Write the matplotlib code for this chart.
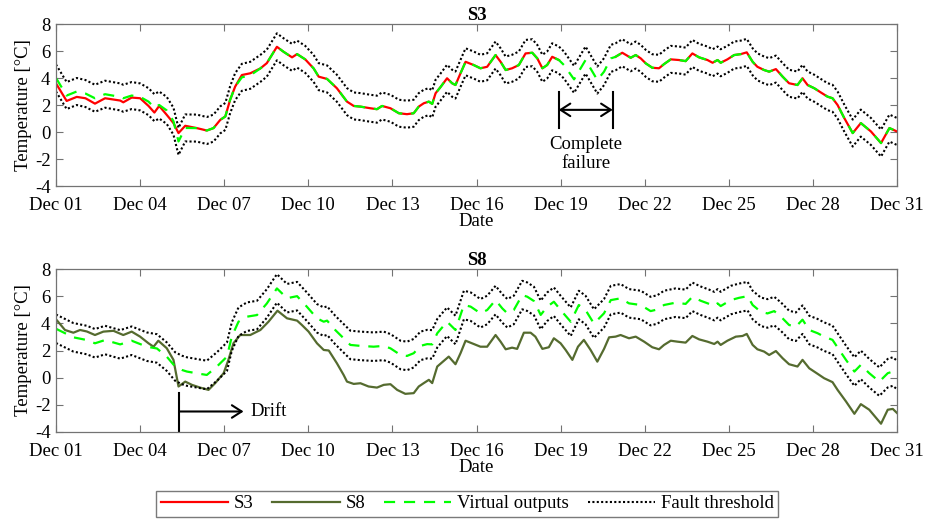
import matplotlib
matplotlib.use('Agg')
import matplotlib.pyplot as plt
from matplotlib.lines import Line2D
import numpy as np

plt.rcParams['font.family'] = ['Liberation Serif', 'DejaVu Serif']
plt.rcParams['axes.unicode_minus'] = False

# x positions are days after Dec 01 00:00
tick_days = [0, 3, 6, 9, 12, 15, 18, 21, 24, 27, 30]
tick_labels = ['Dec 01', 'Dec 04', 'Dec 07', 'Dec 10', 'Dec 13', 'Dec 16',
               'Dec 19', 'Dec 22', 'Dec 25', 'Dec 28', 'Dec 31']

# ---- S3 panel ----
nan = np.nan
t_s3 = [0.0, 0.38, 0.74, 1.05, 1.39, 1.75, 2.29, 2.40, 2.70, 3.00, 3.30, 3.51, 3.68,
        3.95, 4.19, 4.37, 4.61, 5.02, 5.38, 5.62, 5.86, 6.04, 6.21, 6.39, 6.63, 6.93,
        7.29, 7.52, 7.88, 8.12, 8.42, 8.60, 8.89, 9.19, 9.37, 9.67, 10.02, 10.38, 10.62,
        10.86, 11.21, 11.45, 11.63, 11.93, 12.23, 12.52, 12.76, 12.94, 13.12, 13.30,
        13.42, 13.54, 13.71, 13.95, 14.13, 14.25, 14.43, 14.61, 14.90, 15.14, 15.38,
        15.68, 15.86, 16.04, 16.27, 16.51, 16.75, 16.99, 17.17, 17.35, 17.52, 17.70,
        17.94, 18.12, 18.48, 18.89, 19.31, 19.55, 19.79, 19.96, 20.20, 20.50, 20.68,
        20.86, 21.04, 21.27, 21.51, 21.69, 21.93, 22.23, 22.46, 22.70, 22.94, 23.24,
        23.42, 23.60, 23.71, 23.95, 24.19, 24.43, 24.64, 24.85, 25.02, 25.26, 25.44,
        25.68, 25.92, 26.15, 26.45, 26.63, 26.81, 27.05, 27.29, 27.52, 27.70, 27.88,
        28.12, 28.42, 28.71, 29.07, 29.43, 29.73, 30.0]
s3 = [3.6, 2.3, 2.6, 2.5, 2.1, 2.5, 2.33, 2.2, 2.55, 2.5, 1.93, 1.44, 1.93,
      1.27, 0.66, -0.08, 0.46, 0.29, 0.11, 0.29, 0.9, 1.15, 2.38, 3.36, 4.22, 4.35,
      4.71, 5.1, 6.31, 5.94, 5.53, 5.77, 5.38, 4.71, 4.1, 3.93, 3.24, 2.25, 1.93,
      1.88, 1.76, 1.69, 1.93, 1.76, 1.39, 1.32, 1.39, 1.88, 2.13, 2.25,
      2.08, 2.87, 3.31, 3.98, 3.61, 3.48, 4.35, 5.2, 4.96, 4.72, 4.83,
      5.7, 5.2, 4.59, 4.72, 4.96, 5.82, 5.87, 5.45, 4.72, 4.96, 5.57,
      5.33, nan, nan, nan, nan, nan, nan, 5.57, 5.87, 5.5, 5.7,
      5.45, 5.08, 4.76, 4.72, 5.03, 5.38, 5.33, 5.25, 5.82, 5.53, 5.33,
      5.13, 5.33, 5.13, 5.38, 5.7, 5.77, 5.9, 5.2, 4.83, 4.59, 4.47,
      4.66, 4.1, 3.61, 3.48, 3.98, 3.48, 3.24, 2.92, 2.62, 2.5, 2.0,
      1.03, -0.08, 0.66, 0.04, -0.82, 0.29, 0.04]
virtual_s3 = [4.0, 2.7, 3.0, 2.85, 2.5, 2.8, 2.6, 2.5, 2.7, 2.6, 2.25, 1.8, 2.0,
              1.6, 0.8, -0.7, 0.3, 0.29, 0.11, 0.29, 0.9, 1.15, 2.38, 3.36, 4.05, 4.2,
              4.71, 5.1, 6.31, 5.94, 5.53, 5.77, 5.38, 4.71, 4.1, 3.93, 3.24, 2.25, 1.93,
              1.88, 1.76, 1.69, 1.93, 1.76, 1.39, 1.32, 1.39, 1.88, 2.13, 2.25,
              2.08, 2.87, 3.31, 3.98, 3.61, 3.48, 4.35, 5.2, 4.96, 4.72, 4.83,
              5.7, 5.2, 4.59, 4.72, 4.96, 5.82, 5.87, 5.45, 4.72, 4.96, 5.57,
              5.33, 4.96, 3.9, 5.33, 3.85, 4.47, 5.45, 5.57, 5.87, 5.5, 5.7,
              5.45, 5.08, 4.76, 4.72, 5.03, 5.38, 5.33, 5.25, 5.82, 5.53, 5.33,
              5.13, 5.33, 5.13, 5.38, 5.7, 5.77, 5.9, 5.2, 4.83, 4.59, 4.47,
              4.66, 4.1, 3.61, 3.48, 3.98, 3.48, 3.24, 2.92, 2.62, 2.5, 2.0,
              1.03, -0.08, 0.66, 0.04, -0.82, 0.29, 0.04]
band_s3 = 1.0

# ---- S8 panel ----
t_s8 = [0.0, 0.32, 0.62, 0.86, 1.1, 1.39, 1.69, 2.05, 2.40, 2.70, 3.0, 3.30, 3.48,
        3.65, 3.95, 4.19, 4.37, 4.61, 4.85, 5.14, 5.44, 5.68, 5.98, 6.15, 6.33, 6.57,
        6.93, 7.29, 7.58, 7.90, 8.24, 8.60, 8.77, 9.01, 9.31, 9.55, 9.73, 10.02, 10.26,
        10.38, 10.62, 10.86, 11.15, 11.45, 11.69, 11.93, 12.17, 12.46, 12.76, 12.94,
        13.12, 13.30, 13.42, 13.60, 13.83, 14.01, 14.25, 14.43, 14.61, 14.90, 15.14,
        15.38, 15.68, 15.86, 16.04, 16.27, 16.45, 16.69, 16.93, 17.10, 17.35, 17.58,
        17.76, 18.0, 18.18, 18.42, 18.62, 18.83, 19.07, 19.31, 19.55, 19.73, 19.96,
        20.14, 20.44, 20.68, 20.98, 21.27, 21.51, 21.69, 21.93, 22.17, 22.46, 22.70,
        22.94, 23.24, 23.48, 23.60, 23.71, 23.95, 24.25, 24.49, 24.64, 24.85, 25.02,
        25.26, 25.44, 25.68, 25.92, 26.15, 26.45, 26.63, 26.87, 27.17, 27.40, 27.70,
        27.88, 28.18, 28.48, 28.71, 29.01, 29.43, 29.67, 29.85, 30.0]
s8 = [4.3, 3.51, 3.31, 3.51, 3.4, 3.14, 3.39, 3.45, 3.14, 3.39, 3.02, 2.53, 2.28,
      2.72, 2.17, 1.31, -0.65, -0.29, -0.53, -0.73, -0.9, -0.4, 0.33, 1.31, 2.53, 3.14,
      3.14, 3.51, 4.12, 4.93, 4.37, 4.2, 3.88, 3.39, 2.53, 2.04, 2.0, 1.06, 0.2,
      -0.29, -0.46, -0.41, -0.65, -0.73, -0.53, -0.48, -0.9, -1.19, -1.14, -0.65,
      -0.4, -0.16, -0.4, 0.82, 1.23, 1.55, 0.99, 1.8, 2.72, 2.48, 2.28,
      2.28, 3.14, 2.65, 2.09, 2.21, 2.12, 3.31, 3.31, 3.02, 2.12, 2.24,
      2.9, 2.53, 2.04, 1.31, 2.28, 2.78, 2.04, 1.18, 2.12, 2.97, 3.02,
      3.14, 2.9, 3.02, 2.65, 2.24, 2.09, 2.41, 2.72, 2.65, 2.58, 3.07,
      2.82, 2.65, 2.48, 2.65, 2.41, 2.72, 3.02, 3.07, 3.22, 2.41, 2.09,
      1.92, 1.67, 1.96, 1.43, 0.99, 0.82, 1.31, 0.69, 0.28, -0.04, -0.33,
      -0.9, -1.75, -2.66, -1.95, -2.36, -3.39, -2.36, -2.3, -2.6]

t_v8 = [0.0, 0.62, 1.1, 1.39, 1.75, 2.29, 2.70, 3.24, 3.60, 3.95, 4.25, 4.49, 4.67,
        5.14, 5.38, 5.74, 6.1, 6.27, 6.51, 6.81, 7.17, 7.52, 7.88, 8.24, 8.60, 8.95,
        9.31, 9.55, 9.67, 9.96, 10.26, 10.5, 10.86, 11.33, 11.69, 11.93, 12.29, 12.52,
        12.76, 13.0, 13.24, 13.42, 13.6, 13.95, 14.25, 14.55, 14.79, 15.14, 15.38,
        15.68, 15.92, 16.1, 16.33, 16.63, 16.81, 17.05, 17.29, 17.52, 17.76, 18.0,
        18.36, 18.65, 18.89, 19.19, 19.55, 19.79, 20.14, 20.44, 20.86, 21.21, 21.45,
        21.69, 22.1, 22.46, 22.70, 23.0, 23.3, 23.48, 23.6, 23.71, 24.07, 24.37, 24.67,
        24.85, 25.14, 25.38, 25.62, 25.86, 26.15, 26.39, 26.63, 26.87, 27.17, 27.40,
        27.70, 27.94, 28.18, 28.48, 28.71, 29.01, 29.37, 29.67, 29.85, 30.0]
virtual_s8 = [3.6, 2.97, 2.77, 2.53, 2.77, 2.45, 2.72, 2.28, 2.15, 1.55, 0.82, 0.57, 0.45,
              0.28, 0.2, 0.82, 1.55, 3.02, 4.12, 4.49, 4.61, 5.46, 6.57, 5.85, 6.0, 5.22,
              4.37, 4.12, 4.2, 3.51, 2.9, 2.41, 2.34, 2.28, 2.34, 2.16, 1.67, 1.6,
              1.8, 2.34, 2.47, 2.45, 3.27, 4.12, 3.51, 5.35, 5.23, 4.74, 4.98,
              5.71, 5.1, 4.74, 4.98, 6.08, 5.96, 5.64, 4.62, 5.22, 5.59, 4.98,
              4.12, 5.35, 4.98, 3.98, 4.74, 5.71, 5.84, 5.47, 5.35, 4.9, 5.02,
              5.35, 5.52, 5.43, 5.95, 5.66, 5.43, 5.27, 5.47, 5.27, 5.71, 5.88, 6.0,
              5.35, 4.85, 4.73, 4.9, 4.49, 3.88, 3.75, 4.27, 3.51, 3.27, 3.02,
              2.78, 2.04, 1.31, 0.45, 0.94, 0.33, -0.29, 0.33, 0.45, 0.2]
band_s8 = 1.05

red = '#ff0000'
olive = '#556b2f'
green = '#00ff00'
dash = (0, (5, 4))
dots = (0, (1, 1.1))
gray = '0.45'

fig = plt.figure(figsize=(9.25, 5.2), dpi=100)
ax1 = fig.add_axes([56 / 925, 1 - 186 / 520, 841 / 925, 162 / 520])
ax2 = fig.add_axes([56 / 925, 1 - 432 / 520, 841 / 925, 163 / 520])

v3 = np.array(virtual_s3)
ax1.plot(t_s3, s3, color=red, lw=1.6)
ax1.plot(t_s3, v3, color=green, lw=1.6, ls=dash)
ax1.plot(t_s3, v3 + band_s3, color='k', lw=1.5, ls=dots)
ax1.plot(t_s3, v3 - band_s3, color='k', lw=1.5, ls=dots)

v8 = np.array(virtual_s8)
ax2.plot(t_s8, s8, color=olive, lw=1.6)
ax2.plot(t_v8, v8, color=green, lw=1.6, ls=dash)
ax2.plot(t_v8, v8 + band_s8, color='k', lw=1.5, ls=dots)
ax2.plot(t_v8, v8 - band_s8, color='k', lw=1.5, ls=dots)

for ax, title in [(ax1, 'S3'), (ax2, 'S8')]:
    ax.set_xlim(0, 30)
    ax.set_ylim(-4, 8)
    ax.set_xticks(tick_days)
    ax.set_xticklabels(tick_labels)
    ax.set_yticks(range(-4, 9, 2))
    ax.tick_params(direction='in', top=True, right=True, length=5, width=0.8,
                   color=gray, labelsize=13.5)
    ax.tick_params(axis='x', pad=8)
    ax.tick_params(axis='y', pad=4)
    for sp in ax.spines.values():
        sp.set_color(gray)
        sp.set_linewidth(0.9)
    ax.set_title(title, fontsize=13.5, fontweight='bold', pad=3)
    ax.set_xlabel('Date', fontsize=13.5, labelpad=-1)
    ax.set_ylabel('Temperature [°C]', fontsize=13.5, labelpad=2)

# complete failure annotation
for d in [17.93, 19.86]:
    ax1.plot([d, d], [0.29, 3.0], color='k', lw=1.5)
ax1.annotate('', xy=(17.93, 1.64), xytext=(19.86, 1.64),
             arrowprops=dict(arrowstyle='<->,head_length=0.7,head_width=0.45',
                             color='k', lw=1.5, shrinkA=0, shrinkB=0))
ax1.text(18.9, -1.62, 'Complete\nfailure', ha='center', va='center',
         fontsize=13.5, linespacing=1.2)

# drift annotation
ax2.plot([4.39, 4.39], [-1.12, -4], color='k', lw=1.5)
ax2.annotate('', xy=(6.69, -2.49), xytext=(4.39, -2.49),
             arrowprops=dict(arrowstyle='->,head_length=0.7,head_width=0.45',
                             color='k', lw=1.5, shrinkA=0, shrinkB=0))
ax2.text(6.93, -2.49, 'Drift', ha='left', va='center', fontsize=13.5)

handles = [Line2D([], [], color=red, lw=1.6),
           Line2D([], [], color=olive, lw=1.6),
           Line2D([], [], color=green, lw=1.6, ls=dash),
           Line2D([], [], color='k', lw=1.5, ls=dots)]
leg = fig.legend(handles, ['S3', 'S8', 'Virtual outputs', 'Fault threshold'],
                 loc='lower center', bbox_to_anchor=(0.505, 0.0), ncol=4,
                 fontsize=13.5, frameon=True, fancybox=False, handlelength=3.6,
                 handletextpad=0.3, columnspacing=1.0, borderpad=0.25,
                 borderaxespad=0.15)
leg.get_frame().set_edgecolor('0.35')
leg.get_frame().set_linewidth(1.0)

fig.savefig('out.png', dpi=100)
